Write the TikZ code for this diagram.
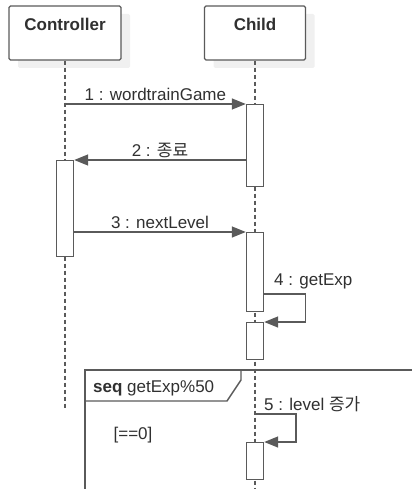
\documentclass[tikz,border=0pt]{standalone}
\usepackage{fontspec}
\setmainfont{Liberation Sans}
\newfontfamily\kr{Noto Sans CJK KR}
\usepackage{tikz}
\usetikzlibrary{arrows.meta}
\usetikzlibrary{shadows}
\definecolor{ln}{HTML}{5A5A5A}
\definecolor{tx}{HTML}{303030}

\begin{document}
\begin{tikzpicture}[x=1pt,y=-1pt]

\tikzset{head/.style={
    draw=ln, fill=white, line width=1.4pt, rounded corners=1.5pt,
    minimum width=#1, inner sep=0pt, text height=25pt, text depth=29pt,
    text=tx, font=\fontsize{17}{20}\selectfont\bfseries,
    drop shadow={shadow xshift=9pt, shadow yshift=-8pt, fill=black!6, opacity=1}
  },
  life/.style={draw=ln, line width=1.2pt, dash pattern=on 4pt off 3pt},
  act/.style={draw=ln, fill=white, line width=1.4pt, minimum width=17pt,
    minimum height=#1, inner sep=0pt, anchor=north},
  msg/.style={draw=ln, line width=1.4pt, -{Triangle[length=14pt,width=11pt]}},
  lbl/.style={text=tx, font=\fontsize{17}{20}\selectfont, inner sep=1pt, text depth=0pt}
}

\useasboundingbox (0,0) rectangle (412,489);

\node[head=112pt] (ctrl) at (65,33) {Controller};
\node[head=101pt] (child) at (255,33) {Child};

\draw[life] (ctrl.south) -- ++(0,347);
\draw[life] (child.south) -- (child.south |- 0,489);

\draw[draw=ln, line width=1.4pt] (85,489) |- (412,370);
\draw[draw=ln, line width=1.4pt] (85,401) -- (227,401) -- (241,380) -- (241,370);
\node[lbl, anchor=base west] (seq) at (92,392) {\textbf{seq} getExp\%50};
\node[lbl] (guard) at (133,433) {[==0]};

\node[act=82pt] (a1) at (child.south |- 0,104) {};
\node[act=96pt] (c1) at (ctrl.south |- 0,160) {};
\node[act=79pt] (a2) at (child.south |- 0,232) {};
\node[act=37pt] (a3) at (child.south |- 0,322) {};
\node[act=37pt] (a4) at (child.south |- 0,442) {};

\draw[msg] (ctrl.south |- a1.north) -- node[lbl, above=2pt] (l1) {1 : wordtrainGame} (a1.north west);
\draw[msg] (a1.west |- c1.north) -- node[lbl, above=2pt] (l2) {2 : {\kr 종료}} (c1.north east);
\draw[msg] (c1.east |- a2.north) -- node[lbl, above=2pt] (l3) {3 : nextLevel} (a2.north west);

\coordinate (s4) at (a2.east |- 0,294);
\draw[msg] (s4) -- ++(41,0) |- (a3.north east);
\node[lbl, anchor=base west] (l4) at (273,285) {4 : getExp};

\coordinate (s5) at (child.south |- 0,414);
\draw[msg] (s5) -- ++(41,0) |- (a4.north east);
\node[lbl, anchor=base west] (l5) at (263,410) {5 : level {\kr 증가}};

\end{tikzpicture}
\end{document}
